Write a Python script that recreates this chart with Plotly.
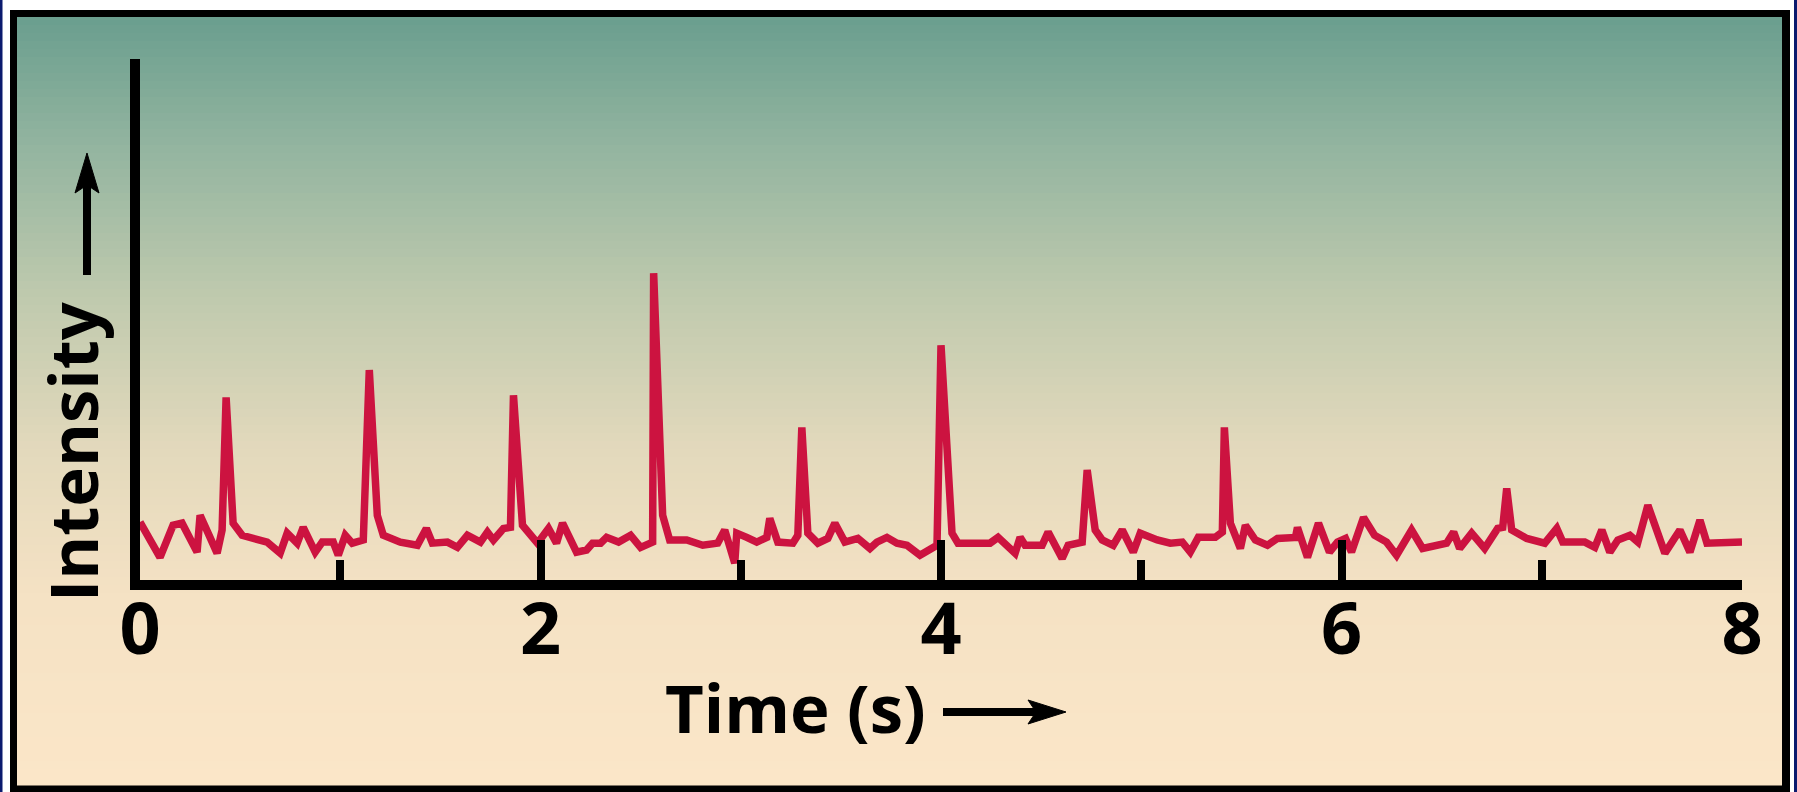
import plotly.graph_objects as go

# ---- data ----
time_s = [0.0, 0.10, 0.165, 0.21, 0.285, 0.30, 0.385, 0.41, 0.43, 0.465,
          0.51, 0.635, 0.70, 0.735, 0.785, 0.815, 0.875, 0.91, 0.965, 0.99,
          1.025, 1.06, 1.115, 1.145, 1.185, 1.215, 1.30, 1.385, 1.43, 1.46,
          1.535, 1.585, 1.635, 1.70, 1.735, 1.765, 1.815, 1.85, 1.865,
          1.91, 1.985, 2.04, 2.08, 2.11, 2.18, 2.23, 2.26, 2.30, 2.33,
          2.39, 2.45, 2.50, 2.56, 2.565, 2.61, 2.645, 2.73, 2.81, 2.885,
          2.92, 2.97, 2.98, 3.03, 3.08, 3.13, 3.145, 3.185, 3.26, 3.285,
          3.305, 3.335, 3.385, 3.435, 3.47, 3.52, 3.585, 3.645, 3.68, 3.73,
          3.78, 3.83, 3.895,
          3.98, 4.0, 4.055, 4.085, 4.245, 4.285, 4.37, 4.395, 4.42, 4.505,
          4.535, 4.605, 4.635, 4.705, 4.73, 4.77, 4.805, 4.86, 4.905, 4.96,
          4.995, 5.08, 5.145, 5.205, 5.245, 5.285, 5.37, 5.405, 5.415, 5.445,
          5.495, 5.52, 5.57, 5.63, 5.68, 5.77, 5.78, 5.83, 5.885,
          5.94, 5.98, 6.02, 6.05, 6.11, 6.165, 6.225, 6.275, 6.35, 6.405,
          6.525, 6.56, 6.59, 6.65, 6.715, 6.78, 6.805, 6.825, 6.85, 6.925,
          7.015, 7.075, 7.105, 7.215, 7.265, 7.30, 7.34, 7.38, 7.44, 7.48,
          7.53, 7.615, 7.69, 7.74, 7.79, 7.825, 8.0]

intensity = [12.0, 5.3, 11.4, 11.8, 6.3, 13.3, 6.1, 10.5, 35.7, 11.8,
             9.5, 8.2, 6.1, 9.9, 8.0, 11.0, 6.3, 8.2, 8.2, 5.7,
             9.5, 8.0, 8.6, 40.9, 13.3, 9.5, 8.2, 7.6, 10.8, 8.0,
             8.2, 7.2, 9.5, 8.2, 10.1, 8.6, 10.8, 11.0, 36.1,
             11.4, 8.0, 10.8, 8.0, 11.8, 6.3, 6.7, 8.0, 8.0, 9.1,
             8.2, 9.5, 7.2, 8.2, 59.3, 13.3, 8.6, 8.6, 7.6, 8.0,
             10.5, 4.2, 9.9, 9.1, 8.2, 9.1, 12.7, 8.2, 8.0, 9.5,
             30.0, 9.9, 8.0, 8.9, 11.8, 8.2, 8.9, 7.0, 8.2, 9.1,
             8.0, 7.6, 5.7,
             7.6, 45.6, 9.9, 8.0, 8.0, 9.1, 6.1, 9.1, 7.6, 7.6,
             10.1, 5.1, 7.6, 8.2, 21.9, 10.5, 8.6, 7.6, 10.5, 6.3,
             9.9, 8.6, 8.0, 8.2, 6.3, 9.1, 9.1, 10.1, 30.0, 11.8,
             7.0, 11.4, 8.6, 7.6, 8.9, 9.1, 11.0, 5.3, 11.8,
             6.3, 8.2, 8.9, 6.3, 12.9, 9.5, 8.2, 5.7, 10.5, 7.0,
             8.0, 10.1, 7.0, 9.9, 7.0, 10.8, 11.0, 18.4, 10.5, 8.9,
             8.0, 10.8, 8.2, 8.2, 7.2, 10.5, 6.3, 8.6, 9.5, 8.2,
             15.2, 6.1, 10.5, 6.3, 12.4, 8.0, 8.2]

x_tick_vals = [0, 2, 4, 6, 8]
x_tick_text = ["0", "2", "4", "6", "8"]
x_title = "Time (s)"
y_title = "Intensity"

# ---- layout geometry ----
W, H = 1797, 792
ML, MR, MT, MB = 140, 55, 59, 212
PW = W - ML - MR
PH = H - MT - MB


def px(p):
    return (p - ML) / PW


def py(p):
    return (H - MB - p) / PH


FONT = "Open Sans"
TICKFONT = "Liberation Sans Narrow, Open Sans"

fig = go.Figure()
fig.add_trace(go.Scatter(x=time_s, y=intensity, mode="lines",
                         line=dict(color="#cc1340", width=7.5),
                         hoverinfo="skip", showlegend=False))

shapes = []
# thin navy page edges
shapes.append(dict(type="rect", xref="paper", yref="paper", layer="below",
                   x0=px(0), x1=px(2.5), y0=py(0), y1=py(H),
                   fillcolor="#0b1a6e", line=dict(width=0)))
shapes.append(dict(type="rect", xref="paper", yref="paper", layer="below",
                   x0=px(1794), x1=px(W), y0=py(0), y1=py(H),
                   fillcolor="#0b1a6e", line=dict(width=0)))
# black frame
shapes.append(dict(type="rect", xref="paper", yref="paper", layer="below",
                   x0=px(10), x1=px(1790), y0=py(10), y1=py(H),
                   fillcolor="black", line=dict(width=0)))
# gradient background
stops = [(17, (106, 158, 142)), (150, (148, 181, 160)), (300, (192, 202, 174)),
         (450, (227, 217, 188)), (600, (245, 226, 196)), (785, (251, 230, 200))]


def col_at(p):
    for (p0, c0), (p1, c1) in zip(stops[:-1], stops[1:]):
        if p <= p1:
            f = (p - p0) / (p1 - p0)
            return tuple(round(a + (b - a) * f) for a, b in zip(c0, c1))
    return stops[-1][1]


N = 96
top, bot = 17, 785
for i in range(N):
    a = top + (bot - top) * i / N
    b = top + (bot - top) * (i + 1) / N
    c = col_at((a + b) / 2)
    shapes.append(dict(type="rect", xref="paper", yref="paper", layer="below",
                       x0=px(17), x1=px(1782), y0=py(b + 0.6), y1=py(a),
                       fillcolor="rgb(%d,%d,%d)" % c, line=dict(width=0)))


# arrows (shaft + notched head)
def arrow_up(xc, y_tail, y_tip):
    s = [dict(type="line", xref="paper", yref="paper",
              x0=px(xc), x1=px(xc), y0=py(y_tail), y1=py(y_tip + 30),
              line=dict(color="black", width=8))]
    path = "M %f,%f L %f,%f L %f,%f L %f,%f Z" % (
        px(xc), py(y_tip), px(xc + 12), py(y_tip + 40),
        px(xc), py(y_tip + 32), px(xc - 12), py(y_tip + 40))
    s.append(dict(type="path", xref="paper", yref="paper", path=path,
                  fillcolor="black", line=dict(color="black", width=1)))
    return s


def arrow_right(yc, x_tail, x_tip):
    s = [dict(type="line", xref="paper", yref="paper",
              x0=px(x_tail), x1=px(x_tip - 30), y0=py(yc), y1=py(yc),
              line=dict(color="black", width=8))]
    path = "M %f,%f L %f,%f L %f,%f L %f,%f Z" % (
        px(x_tip), py(yc), px(x_tip - 38), py(yc - 12),
        px(x_tip - 30), py(yc), px(x_tip - 38), py(yc + 12))
    s.append(dict(type="path", xref="paper", yref="paper", path=path,
                  fillcolor="black", line=dict(color="black", width=1)))
    return s


shapes += arrow_up(87, 275, 153)
shapes += arrow_right(712, 943, 1066)

annotations = [
    dict(text=x_title, xref="paper", yref="paper", x=px(795), y=py(707),
         xanchor="center", yanchor="middle", showarrow=False,
         font=dict(family=FONT, size=67, color="black", weight=700)),
    dict(text=y_title, xref="paper", yref="paper", x=px(72), y=py(452),
         xanchor="center", yanchor="middle", showarrow=False, textangle=-90,
         font=dict(family=FONT, size=67, color="black", weight=700)),
]

fig.update_layout(
    width=W, height=H,
    margin=dict(l=ML, r=MR, t=MT, b=MB, pad=0),
    paper_bgcolor="white", plot_bgcolor="rgba(0,0,0,0)",
    shapes=shapes, annotations=annotations,
    xaxis=dict(range=[0, 8], showgrid=False, zeroline=False,
               showline=True, linecolor="black", linewidth=10,
               ticks="inside", ticklen=40, tickwidth=8, tickcolor="black",
               tickvals=x_tick_vals, ticktext=x_tick_text,
               ticklabelstandoff=-22,
               tickfont=dict(family=TICKFONT, size=72, color="black", weight=700),
               minor=dict(ticks="inside", dtick=1, tick0=0, ticklen=20,
                          tickwidth=8, tickcolor="black", showgrid=False),
               fixedrange=True),
    yaxis=dict(range=[1, 100], showgrid=False, zeroline=False,
               showline=True, linecolor="black", linewidth=10,
               showticklabels=False, ticks="", fixedrange=True),
)

fig.write_html("out.html")
